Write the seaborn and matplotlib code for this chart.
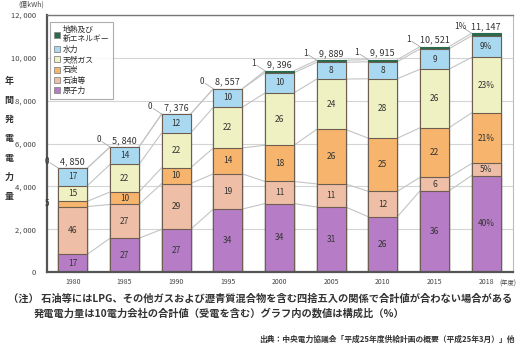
import matplotlib
matplotlib.use("Agg")
import matplotlib.pyplot as plt
from matplotlib.patches import Patch
import seaborn as sns
import numpy as np

# data
years = ["1980", "1985", "1990", "1995", "2000", "2005", "2010", "2015", "2018"]
totals = [4850, 5840, 7376, 8557, 9396, 9889, 9915, 10521, 11147]
nuclear = [17, 27, 27, 34, 34, 31, 26, 36, 40]
oil = [46, 27, 29, 19, 11, 11, 12, 6, 5]
coal = [5, 10, 10, 14, 18, 26, 25, 22, 21]
lng = [15, 22, 22, 22, 26, 24, 28, 26, 23]
hydro = [17, 14, 12, 10, 10, 8, 8, 9, 9]
geo = [0, 0, 0, 0, 1, 1, 1, 1, 1]

names = ["原子力", "石油等", "石炭", "天然ガス", "水力", "地熱及び\n新エネルギー"]
shares = [nuclear, oil, coal, lng, hydro, geo]
colors = ["#b67dc6", "#efbea6", "#f6b46c", "#eff1c2", "#a9d9f1", "#2c6a4d"]

sns.set_theme(style="white")
plt.rcParams["font.family"] = ["Noto Sans CJK JP", "DejaVu Sans"]

fig = plt.figure(figsize=(5.22, 3.58), dpi=100)
ax = fig.add_axes([47 / 522, 1 - 272 / 358, (513 - 47) / 522, (272 - 15) / 358])

# segment heights scaled so each bar sums to its total
sh = np.array(shares, dtype=float)
heights = sh / sh.sum(axis=0) * np.array(totals)
tops = np.cumsum(heights, axis=0)
bottoms = tops - heights

w = 0.56
edge = "#6e5e52"
for k in reversed(range(len(names))):
    sns.barplot(x=years, y=tops[k], order=years, color=colors[k], saturation=1,
                width=w, edgecolor=edge if k < 5 else colors[k], linewidth=0.8,
                errorbar=None, ax=ax, zorder=2)

# connecting lines between neighbouring bars
for k in range(len(names)):
    for i in range(len(years) - 1):
        ax.plot([i + w / 2, i + 1 - w / 2], [tops[k][i], tops[k][i + 1]],
                color="#c4c4c4", lw=0.8, zorder=1)

# percentage labels inside segments
for k in range(5):
    for i in range(len(years)):
        txt = f"{shares[k][i]}" + ("%" if i == len(years) - 1 else "")
        y = (tops[k][i] + bottoms[k][i]) / 2
        x = i - 0.5 if (k == 2 and i == 0) else i
        ax.text(x, y, txt, ha="center", va="center", fontsize=6,
                color="#333333", zorder=4)

# totals and geothermal share above bars
for i, t in enumerate(totals):
    ax.text(i, t + 90, f"{t:,}".replace(",", ", "), ha="center", va="bottom",
            fontsize=6.5, color="#333333", zorder=4)
    g = f"{geo[i]}" + ("%" if i == len(years) - 1 else "")
    ax.text(i - 0.5, t + 330, g, ha="center", va="center", fontsize=6,
            color="#333333", zorder=4)
    ax.plot([i - 0.44, i - w / 2], [t + 250, t], color="#aaaaaa", lw=0.6, zorder=3)

ax.set_xlim(-0.5, 8.52)
ax.set_ylim(0, 12000)
ax.set_yticks(range(0, 12001, 2000))
ax.set_yticklabels([f"{v:,}".replace(",", ", ") for v in range(0, 12001, 2000)],
                   fontsize=5.5, color="#444444")
ax.set_xticks(range(len(years)))
ax.set_xticklabels(years, fontsize=5, color="#444444")
ax.tick_params(axis="y", length=0, pad=8)
ax.tick_params(axis="x", length=0, pad=4)
ax.set_xlabel("")
ax.set_ylabel("")
ax.text(8.25, -560, "(年度)", fontsize=4.5, color="#444444", ha="left", va="center")
ax.yaxis.grid(True, color="#d4d4d4", lw=0.8)
ax.set_axisbelow(True)

for s in ["left", "bottom"]:
    ax.spines[s].set_color("#555555")
    ax.spines[s].set_linewidth(1.6)
ax.spines["top"].set_color("#777777")
ax.spines["top"].set_linewidth(1.0)
ax.spines["right"].set_color("#bbbbbb")
ax.spines["right"].set_linewidth(0.8)

handles = [Patch(facecolor=colors[k], edgecolor="#888888", lw=0.6) for k in reversed(range(6))]
leg = ax.legend(handles, list(reversed(names)), loc="upper left",
                bbox_to_anchor=(0.006, 0.973), borderaxespad=0, fontsize=5.6,
                handlelength=0.8, handleheight=0.8, handletextpad=0.4,
                labelspacing=0.3, frameon=True, fancybox=False, borderpad=0.5)
leg.get_frame().set_edgecolor("#999999")
leg.get_frame().set_linewidth(0.8)

# axis label, unit and notes
fig.text(9 / 522, 1 - 139 / 358, "年\n間\n発\n電\n電\n力\n量", ha="center", va="center",
         fontsize=6.5, color="#333333", linespacing=2.45, fontweight="bold")
fig.text(18 / 522, 1 - 5 / 358, "(億kWh)", fontsize=5, color="#444444", va="center")
fig.text(8 / 522, 1 - 299 / 358,
         "（注） 石油等にはLPG、その他ガスおよび瀝青質混合物を含む四捨五入の関係で合計値が合わない場合がある",
         fontsize=7.4, color="#333333", va="center", fontweight="bold")
fig.text(34 / 522, 1 - 313 / 358,
         "発電電力量は10電力会社の合計値（受電を含む）グラフ内の数値は構成比（%）",
         fontsize=7.4, color="#333333", va="center", fontweight="bold")
fig.text(515 / 522, 1 - 339 / 358,
         "出典：中央電力協議会「平成25年度供給計画の概要（平成25年3月）」他",
         fontsize=5.6, color="#333333", va="center", ha="right", fontweight="bold")

fig.savefig("out.png", dpi=100)
